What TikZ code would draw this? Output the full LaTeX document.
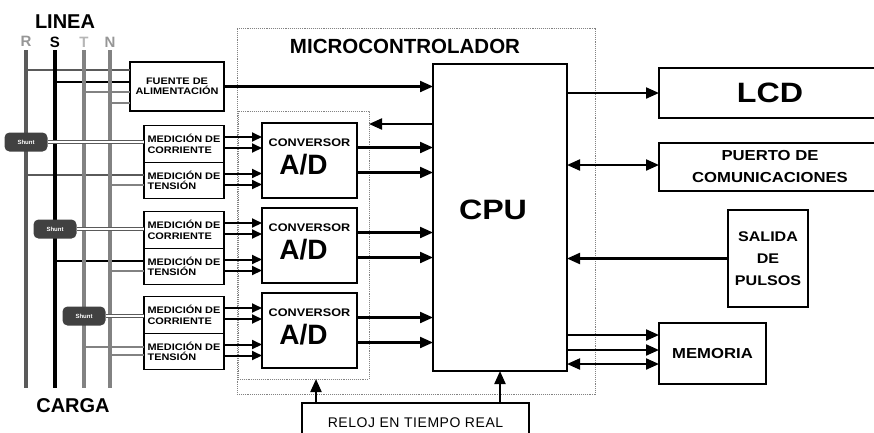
\documentclass[tikz,border=0pt]{standalone}
\usepackage{fontspec}
\setmainfont{Liberation Sans}
\newfontfamily\pixfont[FakeStretch=1.15]{Liberation Sans}
\usepackage{tikz}
\usetikzlibrary{arrows.meta, positioning, calc}
\definecolor{faseR}{RGB}{90,90,90}
\definecolor{faseTN}{RGB}{130,130,130}
\definecolor{letragris}{RGB}{150,150,150}
\definecolor{shuntgris}{RGB}{65,65,65}
\definecolor{punteado}{RGB}{130,130,130}

\tikzset{
  caja/.style={draw, line width=1.3pt, fill=white, inner sep=0pt, outer sep=0pt},
  medbox/.style={caja, minimum width=80pt, minimum height=36.5pt, align=left,
    font=\pixfont\bfseries\fontsize{9.5}{10.5}\selectfont},
  convbox/.style={caja, minimum width=95pt, minimum height=75pt, align=center,
    font=\fontsize{10}{12}\selectfont, text depth=8pt},
  grupo/.style={draw=punteado, densely dotted, line width=0.9pt, inner sep=0pt, outer sep=0pt},
  flecha/.style={line width=2.1pt, -{Triangle[length=13pt,width=11pt]}},
  dobleflecha/.style={line width=2.1pt, {Triangle[length=13pt,width=11pt]}-{Triangle[length=13pt,width=11pt]}},
  flechachica/.style={line width=2pt, -{Triangle[length=10pt,width=9pt]}},
  bus/.style={line width=3.8pt},
  derivacion/.style={line width=2pt},
  doble/.style={draw=faseR, double=white, double distance=1.8pt, line width=1.3pt},
  shuntbox/.style={rounded corners=5pt, fill=shuntgris, text=white, minimum width=43pt,
    minimum height=19pt, inner sep=0pt, font=\bfseries\fontsize{6}{7}\selectfont},
}

\begin{document}
\begin{tikzpicture}[x=1pt, y=-1pt]
  \clip (0,0) rectangle (874,432);

  % Microcontrolador (recuadros punteados)
  \node[grupo, minimum width=358pt, minimum height=366pt] (micro) at (416,211) {};
  \node[grupo, minimum width=131pt, minimum height=268pt] (adcs) at (303.5,245) {};
  \node[font=\bfseries\fontsize{20.5}{22}\selectfont] (microtxt) at (405,46) {MICROCONTROLADOR};

  % Linea R S T N
  \coordinate (Rtop) at (26,50);  \coordinate (Rbot) at (26,388);
  \coordinate (Stop) at (55,50);  \coordinate (Sbot) at (55,388);
  \coordinate (Ttop) at (84,50);  \coordinate (Tbot) at (84,388);
  \coordinate (Ntop) at (110,50); \coordinate (Nbot) at (110,388);
  \node[font=\bfseries\fontsize{20}{22}\selectfont] (linea) at (65,22) {LINEA};
  \node[font=\bfseries\fontsize{15}{16}\selectfont, text=letragris] (Rtxt) at (26,41) {R};
  \node[font=\bfseries\fontsize{15}{16}\selectfont] (Stxt) at (55,42) {S};
  \node[font=\bfseries\fontsize{15}{16}\selectfont, text=letragris!70] (Ttxt) at (84,42) {T};
  \node[font=\bfseries\fontsize{15}{16}\selectfont, text=letragris] (Ntxt) at (110,42) {N};
  \node[font=\bfseries\fontsize{20}{22}\selectfont] (carga) at (73,406) {CARGA};

  % Bloques de entrada
  \node[caja, minimum width=94pt, minimum height=49pt, align=center,
    font=\pixfont\bfseries\fontsize{9.5}{10.5}\selectfont] (fuente) at (177,86.5) {FUENTE DE\\ALIMENTACIÓN};
  \node[medbox] (medIc) at (184,144) {MEDICIÓN DE\\CORRIENTE};
  \node[medbox, below=0pt of medIc] (medIt) {MEDICIÓN DE\\TENSIÓN};
  \node[medbox] (medIIc) at (184,230) {MEDICIÓN DE\\CORRIENTE};
  \node[medbox, below=0pt of medIIc] (medIIt) {MEDICIÓN DE\\TENSIÓN};
  \node[medbox] (medIIIc) at (184,315) {MEDICIÓN DE\\CORRIENTE};
  \node[medbox, below=0pt of medIIIc] (medIIIt) {MEDICIÓN DE\\TENSIÓN};

  % derivaciones desde la linea
  \draw[derivacion, faseR] (Rtop |- 0,70) -- (fuente.west |- 0,70);
  \draw[derivacion, black] (Stop |- 0,82) -- (fuente.west |- 0,82);
  \draw[derivacion, faseTN] (Ttop |- 0,92) -- (fuente.west |- 0,92);
  \draw[derivacion, faseTN] (Ntop |- 0,103) -- (fuente.west |- 0,103);
  \draw[derivacion, faseR] (Rtop |- 0,175) -- (medIt.west |- 0,175);
  \draw[derivacion, faseTN] (Ntop |- 0,185) -- (medIt.west |- 0,185);
  \draw[derivacion, black] (Stop |- 0,261) -- (medIIt.west |- 0,261);
  \draw[derivacion, faseTN] (Ntop |- 0,271) -- (medIIt.west |- 0,271);
  \draw[derivacion, faseTN] (Ttop |- 0,347) -- (medIIIt.west |- 0,347);
  \draw[derivacion, faseTN] (Ntop |- 0,355) -- (medIIIt.west |- 0,355);

  \draw[bus, faseR] (Rtop) -- (Rbot);
  \draw[bus, black] (Stop) -- (Sbot);
  \draw[bus, faseTN, line width=3.2pt] (Ttop) -- (Tbot);
  \draw[bus, faseTN, line width=3.2pt] (Ntop) -- (Nbot);

  % shunts
  \node[shuntbox] (shuntI) at (Rtop |- 0,142) {Shunt};
  \node[shuntbox] (shuntII) at (Stop |- 0,229) {Shunt};
  \node[shuntbox] (shuntIII) at (Ttop |- 0,316) {Shunt};
  \draw[doble] (shuntI.east) -- (shuntI.east -| medIc.west);
  \draw[doble] (shuntII.east) -- (shuntII.east -| medIIc.west);
  \draw[doble] (shuntIII.east) -- (shuntIII.east -| medIIIc.west);

  % Conversores A/D
  \node[convbox] (convI) at (309.5,160.5)
    {{\pixfont\bfseries\fontsize{11}{13}\selectfont CONVERSOR}\\[7pt]{\bfseries\fontsize{28}{28}\selectfont A/D}\hspace*{12pt}};
  \node[convbox] (convII) at (309.5,245.5)
    {{\pixfont\bfseries\fontsize{11}{13}\selectfont CONVERSOR}\\[7pt]{\bfseries\fontsize{28}{28}\selectfont A/D}\hspace*{12pt}};
  \node[convbox] (convIII) at (309.5,330.5)
    {{\pixfont\bfseries\fontsize{11}{13}\selectfont CONVERSOR}\\[7pt]{\bfseries\fontsize{28}{28}\selectfont A/D}\hspace*{12pt}};

  \foreach \m in {medIc,medIt,medIIc,medIIt,medIIIc,medIIIt}
    \foreach \d in {-7,4}
      \draw[flechachica] ($(\m.east)+(0,\d)$) -- ($(\m.east -| convI.west)+(0,\d)$);

  % CPU
  \node[caja, minimum width=134pt, minimum height=307pt] (cpu) at (500,217.5) {};
  \node[font=\pixfont\bfseries\fontsize{28}{28}\selectfont] (cputxt) at (493,210) {CPU};

  \foreach \c in {convI,convII,convIII}
    \foreach \d in {-13,12}
      \draw[flecha] ($(\c.east)+(0,\d)$) -- ($(\c.east -| cpu.west)+(0,\d)$);
  \draw[flecha] (fuente.east) -- (fuente.east -| cpu.west);
  \draw[flecha] (cpu.west |- 0,124) -- (adcs.east |- 0,124);

  % Perifericos
  \node[caja, minimum width=222pt, minimum height=50pt, font=\pixfont\bfseries\fontsize{28}{28}\selectfont]
    (lcd) at (770,93) {\raisebox{-3pt}{LCD}};
  \node[caja, minimum width=222pt, minimum height=48pt, align=center,
    font=\pixfont\bfseries\fontsize{14.5}{22}\selectfont] (puerto) at (770,167) {PUERTO DE\\COMUNICACIONES};
  \node[caja, minimum width=80pt, minimum height=97pt, align=center,
    font=\pixfont\bfseries\fontsize{14}{22}\selectfont] (salida) at (768,258.5) {SALIDA\\DE\\PULSOS};
  \node[caja, minimum width=107pt, minimum height=61pt,
    font=\pixfont\bfseries\fontsize{14.5}{16}\selectfont] (memoria) at (712.5,353.5) {MEMORIA};
  \node[caja, minimum width=227pt, minimum height=44pt,
    font=\fontsize{14}{16}\selectfont\addfontfeature{LetterSpace=4}] (reloj) at (415.5,425)
    {\raisebox{4pt}{RELOJ EN TIEMPO REAL}};

  \draw[flecha] (cpu.east |- lcd.west) -- (lcd.west);
  \draw[dobleflecha] (cpu.east |- 0,165) -- (puerto.west |- 0,165);
  \draw[flecha] (salida.west) -- (salida.west -| cpu.east);
  \draw[flecha] (cpu.east |- 0,335) -- (memoria.west |- 0,335);
  \draw[flecha] (cpu.east |- 0,350) -- (memoria.west |- 0,350);
  \draw[dobleflecha] (cpu.east |- 0,364) -- (memoria.west |- 0,364);
  \draw[flecha] (reloj.north -| 316,0) -- (adcs.south -| 316,0);
  \draw[flecha] (reloj.north -| cpu.south) -- (cpu.south);
\end{tikzpicture}
\end{document}
